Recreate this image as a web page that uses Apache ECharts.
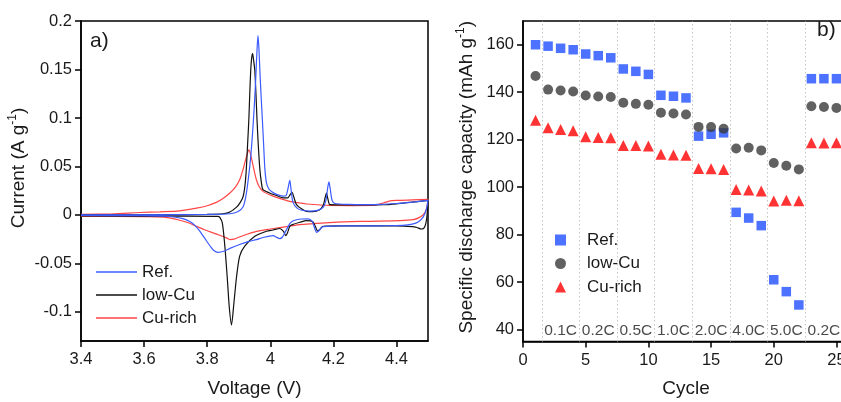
<!DOCTYPE html>
<html><head><meta charset="utf-8">
<script src="https://cdn.jsdelivr.net/npm/echarts@6/dist/echarts.min.js"></script>
<style>html,body{margin:0;padding:0;background:#fff}#c{width:841px;height:402px}</style>
</head><body><div id="c"></div>
<script>
// ---------- Panel a) cyclic voltammograms: [voltage (V), current (A/g)] ----------
const refCV = [
 [3.40,0.0000],[3.60,0.0002],[3.80,0.0005],[3.872,0.0012],[3.898,0.0035],[3.914,0.0085],[3.922,0.018],
 [3.930,0.036],[3.938,0.060],[3.944,0.085],[3.948,0.105],[3.952,0.128],[3.955,0.149],[3.958,0.170],
 [3.961,0.185],[3.964,0.172],[3.967,0.149],[3.971,0.122],[3.975,0.098],[3.979,0.072],[3.983,0.047],
 [3.988,0.033],[3.995,0.027],[4.005,0.024],[4.020,0.0212],[4.040,0.0195],[4.050,0.020],[4.056,0.027],
 [4.062,0.0356],[4.066,0.026],[4.072,0.013],[4.085,0.007],[4.100,0.0048],[4.125,0.0040],[4.150,0.0047],
 [4.168,0.008],[4.177,0.016],[4.182,0.028],[4.186,0.0340],[4.190,0.027],[4.196,0.015],[4.205,0.0118],
 [4.25,0.0108],[4.30,0.0106],[4.35,0.0108],[4.40,0.0118],[4.45,0.0133],[4.50,0.0150],
 [4.495,0.006],[4.485,-0.002],[4.470,-0.007],[4.450,-0.0095],[4.420,-0.0108],[4.35,-0.0112],[4.28,-0.0113],
 [4.22,-0.0113],[4.18,-0.0118],[4.165,-0.0125],[4.155,-0.016],[4.147,-0.018],[4.140,-0.013],[4.133,-0.0066],
 [4.120,-0.0040],[4.100,-0.0042],[4.083,-0.0050],[4.070,-0.0065],[4.062,-0.009],[4.046,-0.0185],
 [4.038,-0.023],[4.030,-0.0244],[4.020,-0.023],[4.009,-0.0213],[3.980,-0.023],[3.956,-0.0254],
 [3.930,-0.0275],[3.903,-0.0305],[3.872,-0.0345],[3.855,-0.0372],[3.835,-0.0387],[3.820,-0.0365],
 [3.808,-0.0315],[3.792,-0.024],[3.776,-0.0165],[3.760,-0.0105],[3.745,-0.0068],[3.720,-0.0036],
 [3.680,-0.0016],[3.600,-0.0008],[3.40,-0.0005]
];
const lowCuCV = [
 [3.40,0.0000],[3.60,0.0002],[3.80,0.0006],[3.850,0.0012],[3.872,0.0030],[3.893,0.0080],[3.905,0.0130],
 [3.914,0.0190],[3.920,0.031],[3.924,0.047],[3.928,0.072],[3.932,0.098],[3.935,0.125],[3.938,0.149],
 [3.941,0.162],[3.944,0.1665],[3.947,0.160],[3.951,0.149],[3.955,0.122],[3.958,0.098],[3.962,0.072],
 [3.967,0.047],[3.972,0.033],[3.977,0.026],[3.998,0.0227],[4.020,0.0200],[4.041,0.0176],[4.055,0.0175],
 [4.063,0.0210],[4.069,0.0233],[4.076,0.017],[4.083,0.0106],[4.100,0.0060],[4.115,0.0037],[4.135,0.0035],
 [4.155,0.0050],[4.168,0.0100],[4.174,0.0180],[4.178,0.0226],[4.183,0.0160],[4.189,0.0106],[4.22,0.0104],
 [4.30,0.0103],[4.36,0.0105],[4.40,0.0115],[4.45,0.0133],[4.50,0.0150],
 [4.497,0.0000],[4.493,-0.0090],[4.487,-0.0135],[4.478,-0.0145],[4.465,-0.0130],[4.450,-0.0120],
 [4.40,-0.0112],[4.30,-0.0112],[4.22,-0.0112],[4.18,-0.0115],[4.165,-0.0120],[4.157,-0.0150],[4.150,-0.0165],
 [4.143,-0.0120],[4.135,-0.0070],[4.115,-0.0058],[4.094,-0.0075],[4.070,-0.0100],[4.062,-0.0117],
 [4.055,-0.018],[4.049,-0.0213],[4.042,-0.0170],[4.030,-0.0140],[4.009,-0.0155],[3.988,-0.0168],
 [3.951,-0.0220],[3.919,-0.0322],[3.903,-0.0425],[3.893,-0.0640],[3.885,-0.0900],[3.877,-0.1135],
 [3.870,-0.0950],[3.864,-0.0665],[3.856,-0.0322],[3.848,-0.0082],[3.840,-0.0025],[3.834,-0.0015],
 [3.70,-0.0013],[3.40,-0.0010]
];
const cuRichCV = [
 [3.40,0.0005],[3.50,0.0012],[3.586,0.0025],[3.650,0.0032],[3.713,0.0042],[3.766,0.0070],[3.800,0.0095],
 [3.829,0.0130],[3.850,0.0170],[3.872,0.0226],[3.890,0.0290],[3.903,0.0363],[3.912,0.0450],[3.919,0.0534],
 [3.926,0.0620],[3.932,0.0671],[3.938,0.0620],[3.946,0.0500],[3.956,0.0363],[3.965,0.0290],[3.977,0.0243],
 [4.000,0.0205],[4.020,0.0181],[4.062,0.0140],[4.094,0.0123],[4.115,0.0113],[4.189,0.0098],[4.26,0.0097],
 [4.326,0.0098],[4.358,0.0123],[4.380,0.0145],[4.400,0.0150],[4.450,0.0155],[4.50,0.0160],
 [4.495,0.0060],[4.485,0.0003],[4.470,-0.0030],[4.453,-0.0048],[4.411,-0.0058],[4.30,-0.0066],
 [4.20,-0.0076],[4.094,-0.0100],[4.062,-0.0115],[4.030,-0.0130],[4.000,-0.0145],[3.956,-0.0170],
 [3.924,-0.0202],[3.900,-0.0230],[3.885,-0.0250],[3.872,-0.0254],[3.861,-0.0236],[3.840,-0.0210],
 [3.819,-0.0185],[3.790,-0.0150],[3.766,-0.0117],[3.740,-0.0080],[3.713,-0.0055],[3.680,-0.0030],
 [3.639,-0.0020],[3.50,-0.0015],[3.40,-0.0015]
];
const voltTicks = [3.4,3.6,3.8,4.0,4.2,4.4];
const currentTicks = [-0.1,-0.05,0,0.05,0.1,0.15,0.2];

// ---------- Panel b) rate capability ----------
const cycles = [1,2,3,4,5,6,7,8,9,10,11,12,13,14,15,16,17,18,19,20,21,22,23,24,25];
const refCap = [160,159.4,158.5,157.9,156.1,155.4,154.5,149.8,148.8,147.5,138.7,138.3,137.6,121.5,122.3,122.9,89.4,87.0,83.8,61.0,56.0,50.4,145.7,145.7,145.7];
const lowCuCap = [146.8,141.1,140.7,140.3,138.6,138.2,138.0,135.6,135.1,134.7,131.4,131.0,130.6,125.4,125.3,124.6,116.3,116.6,115.5,110.2,109.0,107.5,134.1,133.8,133.4];
const cuRichCap = [128.2,125.0,124.3,123.8,121.2,120.9,120.8,117.6,117.6,117.4,113.9,113.6,113.4,107.9,107.8,107.5,99.0,98.8,98.4,94.2,94.5,94.3,118.7,118.6,118.7];
const rateNames = ['0.1C','0.2C','0.5C','1.0C','2.0C','4.0C','5.0C','0.2C'];
const rateCenters = [3,6,9,12,15,18,21,24];
const rateSeparators = [1.5,4.5,7.5,10.5,13.5,16.5,19.5,22.5];
const rateLabelLevel = 40;
const cycleTicks = [0,5,10,15,20,25];
const capTicks = [40,60,80,100,120,140,160];

const FONT = "'Liberation Sans', Arial, sans-serif";
const TXT = '#1a1a1a';
const BLUE_L = '#3b5bff', BLACK_L = '#111111', RED_L = '#ff4545';
const BLUE_M = '#1f4fff', GRAY_M = '#3a3a3a', RED_M = '#ff0000';

const chart = echarts.init(document.getElementById('c'), null, {renderer: 'canvas'});

function axisCommon(ticks, extra) {
  return Object.assign({
    type: 'value',
    axisLine: {show: true, onZero: false, lineStyle: {color: '#000', width: 1.5}},
    axisTick: {show: true, inside: false, length: 6, customValues: ticks, lineStyle: {color: '#000', width: 1.5}},
    axisLabel: {customValues: ticks, fontSize: 16, color: TXT, fontFamily: FONT},
    splitLine: {show: false},
    nameLocation: 'middle',
    nameTextStyle: {fontSize: 19, color: TXT, fontFamily: FONT}
  }, extra);
}

const legendFmt = n => n.replace(/ \(b\)$/, '');
const legTxt = {fontSize: 17, color: TXT, fontFamily: FONT, lineHeight: 20};

chart.setOption({
  animation: false,
  backgroundColor: '#fff',
  textStyle: {fontFamily: FONT},
  grid: [
    {left: 81, top: 21, width: 347, height: 320, show: true, borderColor: '#000', borderWidth: 1.5,
      backgroundColor: 'transparent', containLabel: false, outerBoundsMode: 'none'},
    {left: 523, top: 21, width: 326, height: 320.5, show: true, borderColor: '#000', borderWidth: 1.5,
      backgroundColor: 'transparent', containLabel: false, outerBoundsMode: 'none'}
  ],
  xAxis: [
    axisCommon(voltTicks, {gridIndex: 0, min: 3.4, max: 4.5, name: 'Voltage (V)', nameGap: 38,
      axisLabel: {customValues: voltTicks, fontSize: 16.5, color: TXT, fontFamily: FONT, margin: 10}}),
    axisCommon(cycleTicks, {gridIndex: 1, min: 0, max: 26, name: 'Cycle', nameGap: 38,
      axisLabel: {customValues: cycleTicks, fontSize: 16.5, color: TXT, fontFamily: FONT, margin: 10}})
  ],
  yAxis: [
    axisCommon(currentTicks, {gridIndex: 0, min: -0.13, max: 0.2, name: 'Current (A g{sup|-1})', nameGap: 46,
      axisLabel: {customValues: currentTicks, fontSize: 16.5, color: TXT, fontFamily: FONT, margin: 9},
      nameTextStyle: {fontSize: 19, color: TXT, fontFamily: FONT, lineHeight: 24, padding: [0, 0, 0, 26],
        rich: {sup: {fontSize: 12, lineHeight: 14, verticalAlign: 'top', color: TXT, fontFamily: FONT}}}}),
    axisCommon(capTicks, {gridIndex: 1, min: 35, max: 170, name: 'Specific discharge capacity (mAh g{sup|-1})', nameGap: 44,
      axisLabel: {customValues: capTicks, fontSize: 16.5, color: TXT, fontFamily: FONT, margin: 9},
      nameTextStyle: {fontSize: 19, color: TXT, fontFamily: FONT, lineHeight: 24, padding: [0, 0, 0, 8],
        rich: {sup: {fontSize: 12, lineHeight: 14, verticalAlign: 'top', color: TXT, fontFamily: FONT}}}})
  ],
  legend: [
    {data: ['Ref.', 'low-Cu', 'Cu-rich'], orient: 'vertical', left: 91, top: 257, padding: 5,
      icon: 'rect', itemWidth: 41, itemHeight: 1.4, itemGap: 3, selectedMode: false,
      textStyle: legTxt},
    {data: [
        {name: 'Ref. (b)', icon: 'rect'},
        {name: 'low-Cu (b)', icon: 'circle'},
        {name: 'Cu-rich (b)', icon: 'triangle'}],
      formatter: legendFmt, orient: 'vertical', left: 553, top: 228,
      padding: [2, 6, 2, 2], backgroundColor: '#fff',
      itemWidth: 11, itemHeight: 11, itemGap: 3.5, selectedMode: false,
      textStyle: Object.assign({}, legTxt, {padding: [0, 0, 0, 16]})}
  ],
  series: [
    {name: 'Cu-rich', type: 'line', xAxisIndex: 0, yAxisIndex: 0, data: cuRichCV, symbol: 'none', showSymbol: false,
      smooth: 0.25, lineStyle: {color: RED_L, width: 1.2}, itemStyle: {color: RED_L}, z: 2},
    {name: 'low-Cu', type: 'line', xAxisIndex: 0, yAxisIndex: 0, data: lowCuCV, symbol: 'none', showSymbol: false,
      smooth: 0.25, lineStyle: {color: BLACK_L, width: 1.2}, itemStyle: {color: BLACK_L}, z: 3},
    {name: 'Ref.', type: 'line', xAxisIndex: 0, yAxisIndex: 0, data: refCV, symbol: 'none', showSymbol: false,
      smooth: 0.25, lineStyle: {color: BLUE_L, width: 1.2}, itemStyle: {color: BLUE_L}, z: 3},
    {name: 'rates', type: 'scatter', xAxisIndex: 1, yAxisIndex: 1, silent: true, symbolSize: 1,
      itemStyle: {color: 'rgba(0,0,0,0)'},
      data: rateCenters.map((x, i) => ({value: [x, rateLabelLevel], name: rateNames[i]})),
      label: {show: true, position: 'inside', offset: [0, 1], formatter: '{b}', fontSize: 15.5, color: TXT, fontFamily: FONT},
      markLine: {silent: true, symbol: ['none', 'none'], label: {show: false},
        lineStyle: {type: [1.5, 2.5], color: '#c4c4c4', width: 1},
        data: rateSeparators.map(v => ({xAxis: v}))}, z: 1},
    {name: 'Ref. (b)', type: 'scatter', xAxisIndex: 1, yAxisIndex: 1, symbol: 'rect', symbolSize: 9.5,
      itemStyle: {color: BLUE_M}, data: cycles.map((c, i) => [c, refCap[i]]), z: 3},
    {name: 'low-Cu (b)', type: 'scatter', xAxisIndex: 1, yAxisIndex: 1, symbol: 'circle', symbolSize: 10,
      itemStyle: {color: GRAY_M}, data: cycles.map((c, i) => [c, lowCuCap[i]]), z: 3},
    {name: 'Cu-rich (b)', type: 'scatter', xAxisIndex: 1, yAxisIndex: 1, symbol: 'triangle', symbolSize: 11,
      itemStyle: {color: RED_M}, data: cycles.map((c, i) => [c, cuRichCap[i]]), z: 3}
  ],
  graphic: [
    {type: 'text', left: 90, top: 31, style: {text: 'a)', font: "21px 'Liberation Sans', Arial, sans-serif", fill: TXT}},
    {type: 'text', left: 817, top: 20, style: {text: 'b)', font: "21px 'Liberation Sans', Arial, sans-serif", fill: TXT}}
  ]
});
</script>
</body></html>
